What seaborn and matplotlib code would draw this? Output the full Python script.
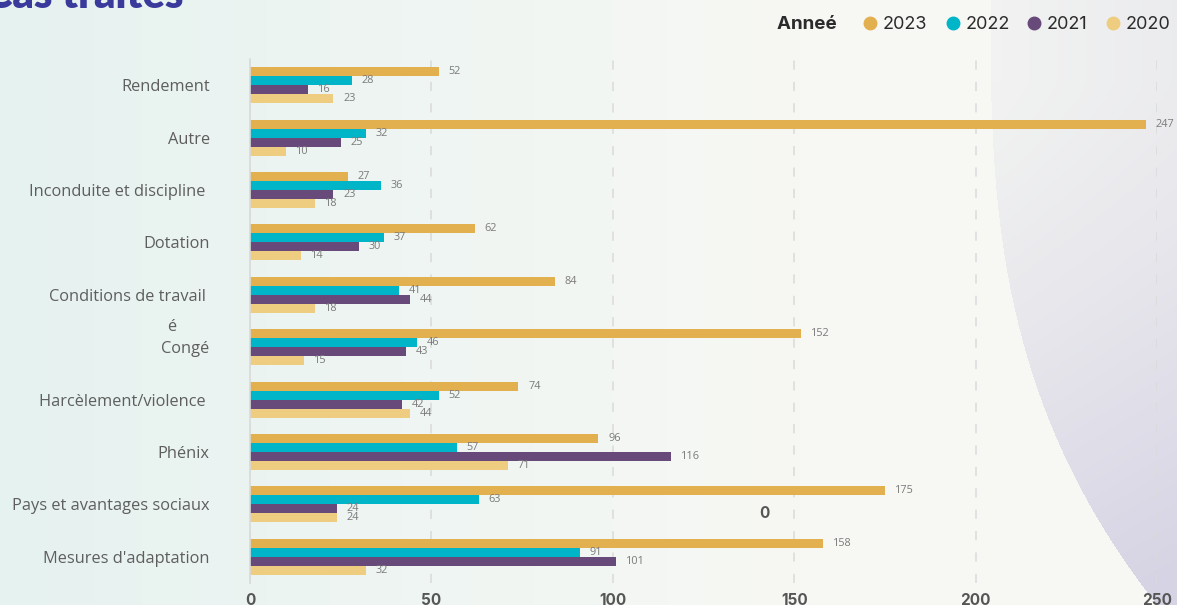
import numpy as np
import pandas as pd
import seaborn as sns
from matplotlib import pyplot as plt
from matplotlib.lines import Line2D
from matplotlib.colors import to_rgb

categories=['Rendement','Autre','Inconduite et discipline ','Dotation','Conditions de travail ',
            'Congé','Harcèlement/violence ','Phénix','Pays et avantages sociaux',"Mesures d'adaptation"]
years=['2023','2022','2021','2020']
v2023=[52,247,27,62,84,152,74,96,175,158]
v2022=[28,32,36,37,41,46,52,57,63,91]
v2021=[16,25,23,30,44,43,42,116,24,101]
v2020=[23,10,18,14,18,15,44,71,24,32]
colors=['#e3b04f','#00b5c8','#674a7a','#efcd80']
x_ticks=[0,50,100,150,200,250]

W,H=1177,605

sns.set_style('white')
plt.rcParams['font.family']=['Open Sans','DejaVu Sans']

df=pd.DataFrame({
    'Catégorie':categories*4,
    'Année':[y for y in years for _ in categories],
    'Nombre':v2023+v2022+v2021+v2020,
})

fig=plt.figure(figsize=(W/100,H/100),dpi=100)

# background: teal tint on the left, lavender shape in the lower right
xx,yy=np.meshgrid(np.arange(W),np.arange(H))
left=np.array(to_rgb('#e6f2f0'))
right=np.array(to_rgb('#f7f8f4'))
t=np.clip(xx/800,0,1)[...,None]
bg=left*(1-t)+right*t
edge=990+163*(yy/600.0)**2.86
inside=xx>edge
u=np.clip(np.clip((yy-80)/520,0,1)**1.3*0.85+np.clip((xx-1000)/177,0,1)*0.2,0,1)[...,None]
disc=np.array(to_rgb('#f1f2f1'))*(1-u)+np.array(to_rgb('#d6d3e4'))*u
bg=np.where(inside[...,None],disc,bg)
bgax=fig.add_axes([0,0,1,1],zorder=0)
bgax.imshow(bg,aspect='auto',extent=(0,1,0,1))
bgax.axis('off')

ax=fig.add_axes([250/W,1-583/H,907/W,524/H],zorder=1)
ax.patch.set_alpha(0)

sns.barplot(data=df,y='Catégorie',x='Nombre',hue='Année',hue_order=years,palette=colors,
            orient='h',width=0.69,saturation=1,linewidth=0,legend=False,ax=ax)

for c in ax.containers:
    ax.bar_label(c,padding=7,fontsize=7.8,color='#7a7a7a')

ax.set_xlim(0,250)
ax.set_ylim(9.5,-0.5)
ax.set_xticks(x_ticks)
ax.set_xlabel('')
ax.set_ylabel('')
ax.xaxis.grid(True,linestyle=(0,(6,8)),color='#dadada',linewidth=1.1)
ax.yaxis.grid(False)
ax.set_axisbelow(True)
for s in ['top','right','bottom']:
    ax.spines[s].set_visible(False)
ax.spines['left'].set_color('#d9d9d9')
ax.spines['left'].set_linewidth(1.2)
ax.tick_params(axis='x',length=0,pad=7,labelsize=11,labelcolor='#555555')
ax.tick_params(axis='y',length=0,pad=29,labelsize=11.8,labelcolor='#5e5e5e')
for lbl in ax.get_xticklabels():
    lbl.set_fontweight('bold')
    lbl.set_family('Inter')

# legend
handles=[Line2D([],[],linestyle='none')]
handles+=[Line2D([],[],linestyle='none',marker='o',markersize=9,color=c) for c in colors]
leg=fig.legend(handles,['Anneé  ']+years,ncol=5,loc='upper right',bbox_to_anchor=(1.008,1.0),
               frameon=False,handletextpad=0.2,columnspacing=0.88,handlelength=1.0,
               prop={'family':'Inter','size':13})
texts=leg.get_texts()
texts[0].set_fontweight('bold')
texts[0].set_fontsize(13.5)
for tx in texts:
    tx.set_color('#2b2b2b')

fig.text(-0.013,1-8/H,'Cas traités',fontsize=30,fontweight='heavy',color='#3a3a9c',
         va='baseline',family='Lato')
fig.text(764/W,1-514/H,'0',fontsize=11,fontweight='bold',color='#555555',ha='center',va='center',family='Inter')
fig.text(172/W,1-327/H,'é',fontsize=11.8,color='#5e5e5e',ha='center',va='center')

fig.savefig('out.png',dpi=100)
